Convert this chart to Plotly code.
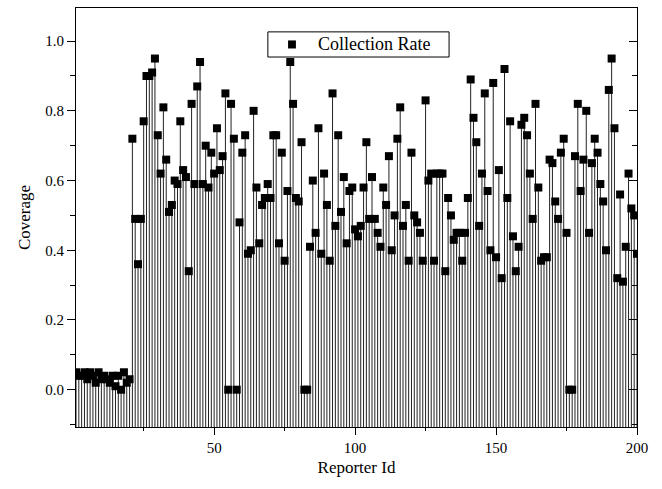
import plotly.graph_objects as go

# Reporter ids 1..200 and their coverage (collection rate)
reporter_id = list(range(1, 201))

coverage_1_20 = [0.05, 0.04, 0.04, 0.05, 0.03, 0.05, 0.04, 0.02, 0.05, 0.03,
                 0.04, 0.03, 0.02, 0.04, 0.01, 0.04, 0.00, 0.05, 0.02, 0.03]
coverage_21_60 = [0.72, 0.49, 0.36, 0.49, 0.77, 0.90, 0.90, 0.91, 0.95, 0.73,
                  0.62, 0.81, 0.66, 0.51, 0.53, 0.60, 0.59, 0.77, 0.63, 0.61,
                  0.34, 0.82, 0.59, 0.87, 0.94, 0.59, 0.70, 0.58, 0.68, 0.62,
                  0.75, 0.63, 0.67, 0.85, 0.00, 0.82, 0.72, 0.00, 0.48, 0.68]
coverage_61_100 = [0.73, 0.39, 0.40, 0.80, 0.58, 0.42, 0.53, 0.55, 0.59, 0.55,
                   0.73, 0.73, 0.42, 0.68, 0.37, 0.57, 0.94, 0.82, 0.55, 0.54,
                   0.71, 0.00, 0.00, 0.41, 0.60, 0.45, 0.75, 0.39, 0.62, 0.53,
                   0.37, 0.85, 0.47, 0.73, 0.51, 0.61, 0.42, 0.57, 0.58, 0.46]
coverage_101_140 = [0.44, 0.47, 0.58, 0.71, 0.49, 0.61, 0.49, 0.45, 0.41, 0.58,
                    0.53, 0.67, 0.40, 0.50, 0.72, 0.81, 0.47, 0.53, 0.37, 0.68,
                    0.50, 0.48, 0.45, 0.37, 0.83, 0.60, 0.62, 0.37, 0.62, 0.62,
                    0.62, 0.34, 0.55, 0.50, 0.43, 0.45, 0.45, 0.37, 0.45, 0.55]
coverage_141_180 = [0.89, 0.78, 0.71, 0.47, 0.62, 0.85, 0.57, 0.40, 0.88, 0.38,
                    0.63, 0.32, 0.92, 0.55, 0.77, 0.44, 0.34, 0.41, 0.76, 0.78,
                    0.73, 0.62, 0.49, 0.82, 0.58, 0.37, 0.38, 0.38, 0.66, 0.65,
                    0.54, 0.49, 0.68, 0.72, 0.45, 0.00, 0.00, 0.67, 0.82, 0.57]
coverage_181_200 = [0.66, 0.80, 0.45, 0.65, 0.72, 0.68, 0.59, 0.54, 0.40, 0.86,
                    0.95, 0.75, 0.32, 0.56, 0.31, 0.41, 0.62, 0.52, 0.50, 0.39]

coverage = (coverage_1_20 + coverage_21_60 + coverage_61_100 +
            coverage_101_140 + coverage_141_180 + coverage_181_200)

series_name = "Collection Rate"
y_tick_vals = [0.0, 0.2, 0.4, 0.6, 0.8, 1.0]
y_tick_text = ["0.0", "0.2", "0.4", "0.6", "0.8", "1.0"]
x_tick_vals = [50, 100, 150, 200]

Y_MIN, Y_MAX = -0.107, 1.095
X_MIN, X_MAX = 1, 200

FONT = "Liberation Serif"

# drop lines from each point down to the bottom axis
drop = [v - Y_MIN + 0.05 for v in coverage]

fig = go.Figure()
fig.add_trace(go.Scatter(
    x=reporter_id, y=coverage,
    mode="markers",
    name=series_name,
    showlegend=False,
    marker=dict(symbol="square", size=8, color="black"),
    error_y=dict(type="data", symmetric=False, array=[0] * len(coverage),
                 arrayminus=drop, width=0, thickness=1, color="#222222"),
))

# right-hand axis carrying inward ticks
fig.add_trace(go.Scatter(x=[None], y=[None], yaxis="y2", xaxis="x2",
                         showlegend=False, hoverinfo="skip"))

# legend box: frame, symbol and label
LEG_X0, LEG_X1 = 0.342, 0.665
LEG_Y0, LEG_Y1 = 0.883, 0.943
legend_shapes = [
    dict(type="rect", xref="paper", yref="paper",
         x0=LEG_X0, x1=LEG_X1, y0=LEG_Y0, y1=LEG_Y1,
         line=dict(color="black", width=1), fillcolor="white", layer="above"),
    dict(type="rect", xref="paper", yref="paper",
         x0=LEG_X0 + 0.036, x1=LEG_X0 + 0.050,
         y0=(LEG_Y0 + LEG_Y1) / 2 - 0.0096, y1=(LEG_Y0 + LEG_Y1) / 2 + 0.0096,
         line=dict(width=0), fillcolor="black", layer="above"),
]

fig.update_layout(
    width=662, height=489,
    margin=dict(l=76, r=25, t=8, b=62),
    paper_bgcolor="white", plot_bgcolor="white",
    font=dict(family=FONT, size=15, color="black"),
    showlegend=False,
    shapes=legend_shapes,
    annotations=[dict(text=series_name, xref="paper", yref="paper",
                      x=LEG_X0 + 0.0865, y=(LEG_Y0 + LEG_Y1) / 2,
                      xanchor="left", yanchor="middle", showarrow=False,
                      font=dict(family=FONT, size=18, color="black"))],
    xaxis=dict(range=[X_MIN, X_MAX], tickvals=x_tick_vals,
               ticks="outside", ticklen=7, tickwidth=1, tickcolor="black",
               tickfont=dict(family=FONT, size=15),
               showline=True, linecolor="black", linewidth=1, mirror=True,
               showgrid=False, zeroline=False,
               title=dict(text="Reporter Id", font=dict(family=FONT, size=17),
                          standoff=6),
               minor=dict(ticks="outside", ticklen=3, dtick=25,
                          tickcolor="black")),
    yaxis=dict(range=[Y_MIN, Y_MAX], tickvals=y_tick_vals, ticktext=y_tick_text,
               ticks="outside", ticklen=8, tickwidth=1, tickcolor="black",
               tickfont=dict(family=FONT, size=15),
               showline=True, linecolor="black", linewidth=1, mirror=True,
               showgrid=False, zeroline=False,
               title=dict(text="Coverage", font=dict(family=FONT, size=17),
                          standoff=10),
               minor=dict(ticks="outside", ticklen=5, dtick=0.1,
                          tick0=0, tickcolor="black")),
    xaxis2=dict(range=[X_MIN, X_MAX], overlaying="x", side="top",
                showticklabels=False, ticks="", showgrid=False,
                zeroline=False, showline=False),
    yaxis2=dict(range=[Y_MIN, Y_MAX], overlaying="y", side="right",
                tickvals=y_tick_vals, showticklabels=False,
                ticks="inside", ticklen=8, tickcolor="black",
                showgrid=False, zeroline=False, showline=False,
                minor=dict(ticks="inside", ticklen=5, dtick=0.1, tick0=0,
                           tickcolor="black")),
)

fig.write_html("out.html")
